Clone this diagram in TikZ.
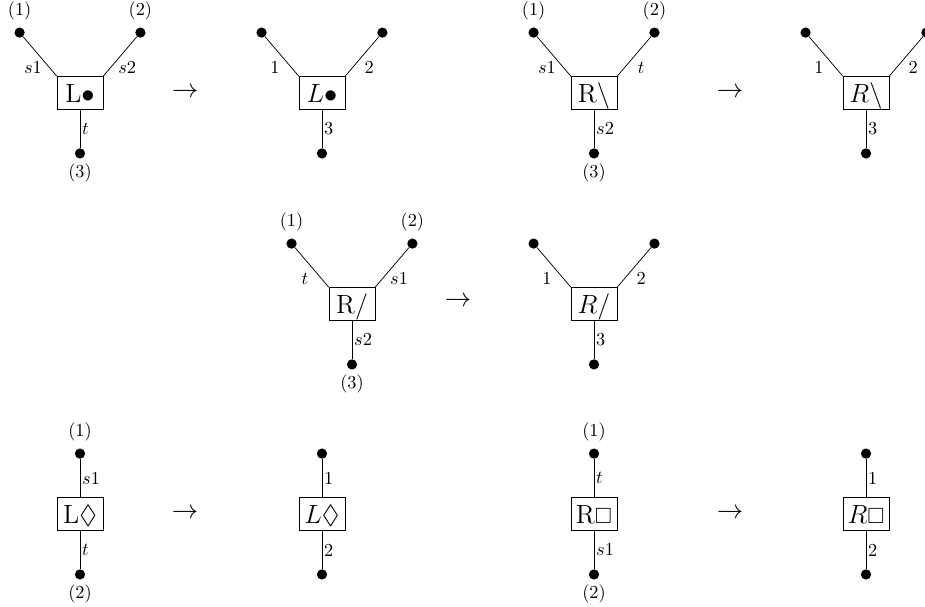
\documentclass[tikz,border=0pt]{standalone}
\usepackage{amsmath}
\usepackage{amssymb}

\begin{document}
\begin{tikzpicture}[box/.style={draw,font=\Large,minimum width=25pt,minimum height=16pt,inner xsep=1.5pt,text height=11pt,text depth=0.4pt},
                    dot/.style={circle,fill,inner sep=0pt,minimum size=5.6pt},
                    lbl/.style={inner sep=1pt},
                    tol/.style={font=\Large},
                    every label/.style={label distance=0.5pt},
                    dlab/.style={label={[label distance=-1pt]below:#1}}]
                        \useasboundingbox (0,0) rectangle (17.76,-11.654);
                        % L bullet
                        \node[box] (lb) at (1.536,-1.786) {L$\bullet$};
                        \node[dot,label=above:(1)] (lb1) at ([shift={(-1.16,1.16)}]lb) {};
                        \node[dot,label=above:(2)] (lb2) at ([shift={(1.16,1.16)}]lb) {};
                        \node[dot,dlab=(3)] (lb3) at ([shift={(0,-1.16)}]lb) {};
                        \draw (lb1)--(lb.north west) node[lbl,pos=0.78,xshift=-9pt] {$s1$};
                        \draw (lb2)--(lb.north east) node[lbl,pos=0.78,xshift=9pt] {$s2$};
                        \draw (lb.south)--(lb3) node[lbl,midway,right] {$t$};
                        \node[tol] (ar1) at (3.552,-1.786) {$\rightarrow$};
                        \node[box] (lbi) at (6.182,-1.786) {$L\bullet$};
                        \node[dot] (lbi1) at ([shift={(-1.16,1.16)}]lbi) {};
                        \node[dot] (lbi2) at ([shift={(1.16,1.16)}]lbi) {};
                        \node[dot] (lbi3) at ([shift={(0,-1.16)}]lbi) {};
                        \draw (lbi1)--(lbi.north west) node[lbl,pos=0.78,xshift=-9pt] {1};
                        \draw (lbi2)--(lbi.north east) node[lbl,pos=0.78,xshift=9pt] {2};
                        \draw (lbi.south)--(lbi3) node[lbl,midway,right] {3};
                        % R backslash
                        \node[box] (rb) at (11.405,-1.786) {R$\backslash$};
                        \node[dot,label=above:(1)] (rb1) at ([shift={(-1.16,1.16)}]rb) {};
                        \node[dot,label=above:(2)] (rb2) at ([shift={(1.16,1.16)}]rb) {};
                        \node[dot,dlab=(3)] (rb3) at ([shift={(0,-1.16)}]rb) {};
                        \draw (rb1)--(rb.north west) node[lbl,pos=0.78,xshift=-9pt] {$s1$};
                        \draw (rb2)--(rb.north east) node[lbl,pos=0.78,xshift=9pt] {$t$};
                        \draw (rb.south)--(rb3) node[lbl,midway,right] {$s2$};
                        \node[tol] (ar2) at (14.016,-1.786) {$\rightarrow$};
                        \node[box] (rbi) at (16.627,-1.786) {$R\backslash$};
                        \node[dot] (rbi1) at ([shift={(-1.16,1.16)}]rbi) {};
                        \node[dot] (rbi2) at ([shift={(1.16,1.16)}]rbi) {};
                        \node[dot] (rbi3) at ([shift={(0,-1.16)}]rbi) {};
                        \draw (rbi1)--(rbi.north west) node[lbl,pos=0.78,xshift=-9pt] {1};
                        \draw (rbi2)--(rbi.north east) node[lbl,pos=0.78,xshift=9pt] {2};
                        \draw (rbi.south)--(rbi3) node[lbl,midway,right] {3};
                        % R slash
                        \node[box] (rs) at (6.758,-5.837) {R/};
                        \node[dot,label=above:(1)] (rs1) at ([shift={(-1.16,1.16)}]rs) {};
                        \node[dot,label=above:(2)] (rs2) at ([shift={(1.16,1.16)}]rs) {};
                        \node[dot,dlab=(3)] (rs3) at ([shift={(0,-1.16)}]rs) {};
                        \draw (rs1)--(rs.north west) node[lbl,pos=0.78,xshift=-9pt] {$t$};
                        \draw (rs2)--(rs.north east) node[lbl,pos=0.78,xshift=9pt] {$s1$};
                        \draw (rs.south)--(rs3) node[lbl,midway,right] {$s2$};
                        \node[tol] (ar3) at (8.794,-5.798) {$\rightarrow$};
                        \node[box] (rsi) at (11.405,-5.837) {$R/$};
                        \node[dot] (rsi1) at ([shift={(-1.16,1.16)}]rsi) {};
                        \node[dot] (rsi2) at ([shift={(1.16,1.16)}]rsi) {};
                        \node[dot] (rsi3) at ([shift={(0,-1.16)}]rsi) {};
                        \draw (rsi1)--(rsi.north west) node[lbl,pos=0.78,xshift=-9pt] {1};
                        \draw (rsi2)--(rsi.north east) node[lbl,pos=0.78,xshift=9pt] {2};
                        \draw (rsi.south)--(rsi3) node[lbl,midway,right] {3};
                        % L diamond
                        \node[box] (ld) at (1.536,-9.869) {L$\Diamond$};
                        \node[dot,label=above:(1)] (ld1) at ([shift={(0,1.16)}]ld) {};
                        \node[dot,dlab=(2)] (ld2) at ([shift={(0,-1.16)}]ld) {};
                        \draw (ld1)--(ld.north) node[lbl,midway,right] {$s1$};
                        \draw (ld.south)--(ld2) node[lbl,midway,right] {$t$};
                        \node[tol] (ar4) at (3.552,-9.856) {$\rightarrow$};
                        \node[box] (ldi) at (6.182,-9.869) {$L\Diamond$};
                        \node[dot] (ldi1) at ([shift={(0,1.16)}]ldi) {};
                        \node[dot] (ldi2) at ([shift={(0,-1.16)}]ldi) {};
                        \draw (ldi1)--(ldi.north) node[lbl,midway,right] {1};
                        \draw (ldi.south)--(ldi2) node[lbl,midway,right] {2};
                        % R box
                        \node[box] (rq) at (11.405,-9.869) {R{\large$\square$}};
                        \node[dot,label=above:(1)] (rq1) at ([shift={(0,1.16)}]rq) {};
                        \node[dot,dlab=(2)] (rq2) at ([shift={(0,-1.16)}]rq) {};
                        \draw (rq1)--(rq.north) node[lbl,midway,right] {$t$};
                        \draw (rq.south)--(rq2) node[lbl,midway,right] {$s1$};
                        \node[tol] (ar5) at (14.016,-9.856) {$\rightarrow$};
                        \node[box] (rqi) at (16.627,-9.869) {$R${\large$\square$}};
                        \node[dot] (rqi1) at ([shift={(0,1.16)}]rqi) {};
                        \node[dot] (rqi2) at ([shift={(0,-1.16)}]rqi) {};
                        \draw (rqi1)--(rqi.north) node[lbl,midway,right] {1};
                        \draw (rqi.south)--(rqi2) node[lbl,midway,right] {2};
                    \end{tikzpicture}
\end{document}
